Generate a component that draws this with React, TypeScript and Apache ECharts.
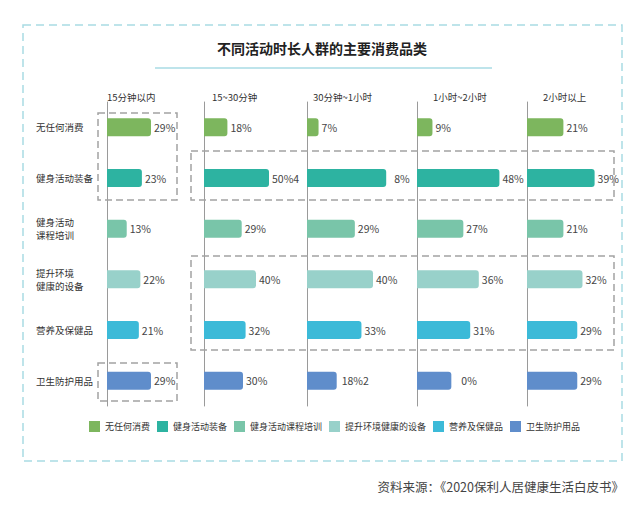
import React, { useEffect, useRef } from "react";
import * as echarts from "echarts";

const categories = ["无任何消费", "健身活动装备", "健身活动\n课程培训", "提升环境\n健康的设备", "营养及保健品", "卫生防护用品"];
const legendNames = ["无任何消费", "健身活动装备", "健身活动课程培训", "提升环境健康的设备", "营养及保健品", "卫生防护用品"];
const periods = ["15分钟以内", "15~30分钟", "30分钟~1小时", "1小时~2小时", "2小时以上"];

const values15 = [29, 23, 13, 22, 21, 29];
const values30 = [18, 50, 29, 40, 32, 30];
const values60 = [7, 48, 29, 40, 33, 18];
const values120 = [9, 48, 27, 36, 31, 20];
const valuesMore = [21, 39, 21, 32, 29, 29];

const labels15 = ["29%", "23%", "13%", "22%", "21%", "29%"];
const labels30 = ["18%", "50%4", "29%", "40%", "32%", "30%"];
const labels60 = ["7%", "8%", "29%", "40%", "33%", "18%2"];
const labels120 = ["9%", "48%", "27%", "36%", "31%", "0%"];
const labelsMore = ["21%", "39%", "21%", "32%", "29%", "29%"];

const sourceText = "资料来源：《2020保利人居健康生活白皮书》";
const titleText = "不同活动时长人群的主要消费品类";

const colors = ["#7db65e", "#2db3a1", "#79c5a9", "#98d1ca", "#3cbad8", "#5f8dcb"];

// layout
const panelLeft = [107, 204, 307, 417, 527];
const panelWidth = [91, 78, 99, 103, 104];
const headerX = [107, 212, 313, 433, 543];
const labelGapOverride: Record<string, number> = { "2-1": 8, "3-5": 10, "2-5": 5 };

const FONT = "'Noto Sans CJK SC', 'Noto Sans', sans-serif";

export default function App() {
  const ref = useRef<HTMLDivElement>(null);
  useEffect(() => {
    if (!ref.current) return;
    const chart = echarts.init(ref.current, null, { renderer: "svg" });
    const allValues = [values15, values30, values60, values120, valuesMore];
    const allLabels = [labels15, labels30, labels60, labels120, labelsMore];

    const grids = panelLeft.map((l, i) => ({ left: l, width: panelWidth[i], top: 102, height: 304 }));
    const xAxes = panelLeft.map((_, i) => ({ type: "value", gridIndex: i, min: 0, max: 60, show: false }));
    const yAxes = panelLeft.map((_, i) => ({
      type: "category",
      gridIndex: i,
      data: categories,
      inverse: true,
      axisLine: { show: true, lineStyle: { color: "#9a9a9a", width: 1 } },
      axisTick: { show: false },
      splitLine: { show: false },
      axisLabel: {
        show: i === 0,
        align: "left",
        margin: 71,
        fontSize: 9.5,
        lineHeight: 13,
        color: "#333",
        fontFamily: FONT,
      },
    }));

    const series: any[] = [];
    allValues.forEach((vals, p) => {
      legendNames.forEach((name, c) => {
        const data = vals.map((v, k) => {
          if (k !== c) return "-";
          const key = `${p}-${k}`;
          const item: any = { value: v };
          if (labelGapOverride[key] !== undefined) item.label = { distance: labelGapOverride[key] };
          return item;
        });
        series.push({
          type: "bar",
          name,
          xAxisIndex: p,
          yAxisIndex: p,
          data,
          barWidth: 18,
          barGap: "-100%",
          itemStyle: { color: colors[c], borderRadius: [0, 3, 3, 0] },
          label: {
            show: true,
            position: "right",
            distance: 3,
            fontSize: 10.5,
            color: "#444",
            fontFamily: FONT,
            formatter: (prm: any) => allLabels[p][prm.dataIndex],
          },
        });
      });
    });

    const dashedBox = (x1: number, y1: number, x2: number, y2: number) => ({
      type: "rect",
      shape: { x: x1, y: y1, width: x2 - x1, height: y2 - y1 },
      style: { fill: "none", stroke: "#a3a3a3", lineWidth: 1.5, lineDash: [7, 4] },
      z: 10,
    });

    const graphics: any[] = [
      {
        type: "rect",
        shape: { x: 23, y: 25, width: 599, height: 436 },
        style: { fill: "none", stroke: "#a9dbe4", lineWidth: 1.5, lineDash: [8, 5] },
      },
      {
        type: "text",
        x: 322,
        y: 48,
        style: { text: titleText, fontSize: 14, fontWeight: "bold", fill: "#222", textAlign: "center", textVerticalAlign: "middle", fontFamily: FONT },
      },
      {
        type: "line",
        shape: { x1: 155, y1: 68, x2: 492, y2: 68 },
        style: { stroke: "#a9dbe4", lineWidth: 1.5 },
      },
      ...periods.map((t, i) => ({
        type: "text",
        x: headerX[i],
        y: 97,
        style: { text: t, fontSize: 9.5, fill: "#333", textAlign: "left", textVerticalAlign: "middle", fontFamily: FONT },
      })),
      dashedBox(98, 113, 177, 200),
      dashedBox(191, 151, 614, 200),
      dashedBox(191, 256, 614, 350),
      dashedBox(98, 363, 177, 401),
      {
        type: "text",
        x: 624,
        y: 486,
        style: { text: sourceText, fontSize: 12.5, fill: "#444", textAlign: "right", textVerticalAlign: "middle", fontFamily: FONT },
      },
    ];

    chart.setOption({
      animation: false,
      backgroundColor: "#ffffff",
      grid: grids,
      xAxis: xAxes,
      yAxis: yAxes,
      legend: {
        data: legendNames,
        left: 89,
        top: 421,
        padding: 0,
        itemWidth: 11,
        itemHeight: 11,
        itemGap: 7,
        icon: "rect",
        textStyle: { fontSize: 9, color: "#333", fontFamily: FONT },
        selectedMode: false,
      },
      series,
      graphic: graphics,
    });
    return () => chart.dispose();
  }, []);
  return <div ref={ref} style={{ position: "fixed", left: 0, top: 0, width: 632, height: 510, background: "#fff" }} />;
}
